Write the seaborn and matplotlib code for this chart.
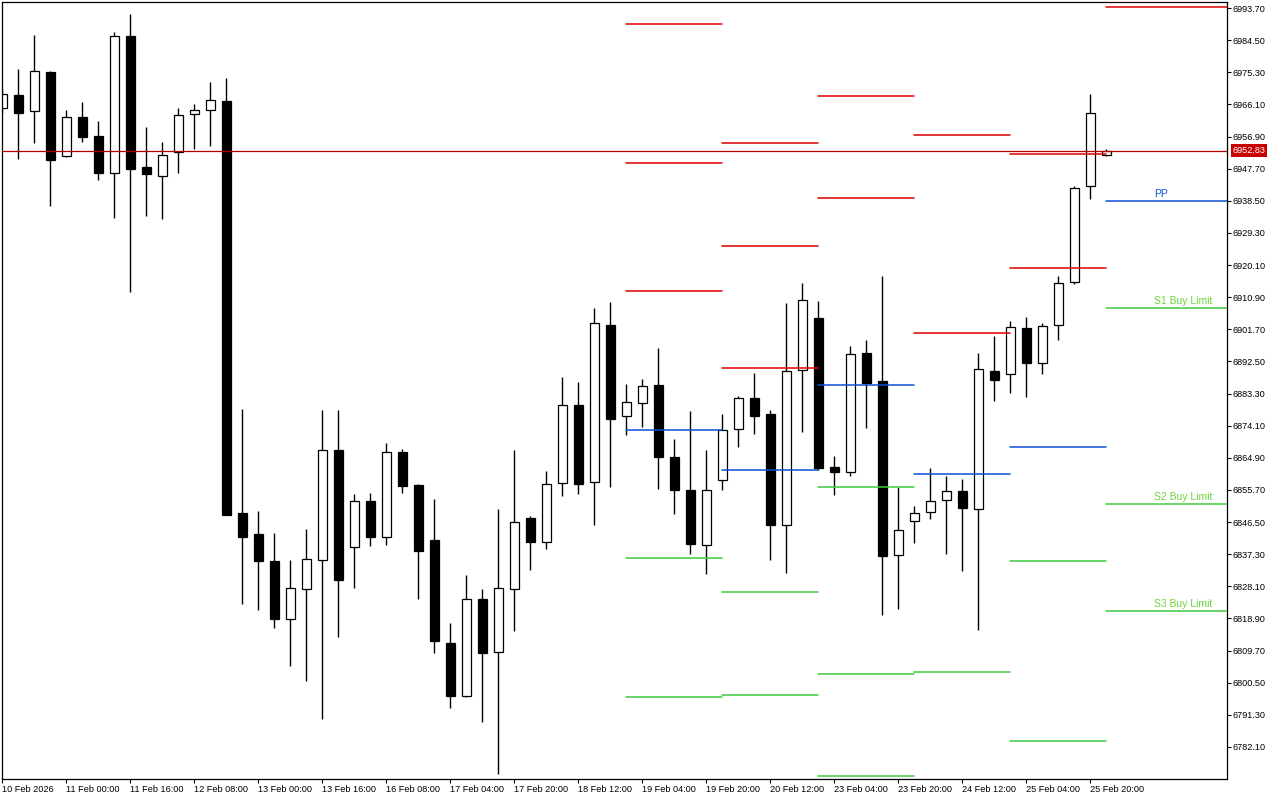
import matplotlib
matplotlib.use("Agg")
import numpy as np
import pandas as pd
import matplotlib.pyplot as plt
import seaborn as sns

# 4h candles, index 0 = first bar on screen
opens = [6965.0, 6968.7, 6964.1, 6975.4, 6951.2, 6962.4, 6957.0, 6946.4, 6985.7, 6948.1,
         6945.5, 6952.4, 6963.3, 6964.4, 6967.1, 6849.0, 6843.1, 6835.3, 6818.7, 6827.3,
         6835.6, 6867.0, 6839.5, 6852.4, 6842.1, 6866.7, 6857.0, 6841.5, 6811.8, 6796.7,
         6824.6, 6809.2, 6827.3, 6847.8, 6840.7, 6857.6, 6879.9, 6857.9, 6902.9, 6876.8,
         6880.5, 6885.8, 6865.1, 6855.7, 6840.0, 6858.5, 6873.1, 6882.0, 6877.4, 6845.8,
         6890.0, 6904.9, 6862.3, 6860.8, 6894.9, 6886.9, 6837.0, 6846.8, 6849.3, 6852.8,
         6855.4, 6850.2, 6889.8, 6889.0, 6902.1, 6892.1, 6902.9, 6915.2, 6942.8, 6951.5]
highs = [6970.5, 6976.2, 6986.0, 6975.7, 6964.5, 6966.8, 6961.3, 6986.8, 6992.0, 6959.6,
         6955.3, 6965.1, 6966.2, 6972.5, 6973.7, 6878.9, 6849.7, 6843.4, 6835.6, 6844.5,
         6878.6, 6878.6, 6854.4, 6854.8, 6869.1, 6867.4, 6857.4, 6853.1, 6817.6, 6831.3,
         6827.3, 6850.2, 6867.1, 6848.2, 6861.1, 6888.0, 6886.6, 6907.8, 6909.5, 6886.1,
         6887.5, 6896.3, 6870.3, 6878.3, 6867.1, 6877.4, 6882.6, 6889.2, 6878.6, 6909.2,
         6915.0, 6909.8, 6865.4, 6896.9, 6898.6, 6917.0, 6856.5, 6851.1, 6862.1, 6859.8,
         6858.7, 6894.9, 6899.9, 6904.0, 6905.2, 6903.4, 6917.1, 6942.8, 6969.0, 6953.3]
lows = [6963.5, 6950.5, 6955.1, 6937.1, 6951.1, 6955.4, 6944.5, 6933.7, 6912.5, 6934.2,
        6933.4, 6946.5, 6953.4, 6954.3, 6848.5, 6823.1, 6821.3, 6816.2, 6805.4, 6801.1,
        6790.2, 6813.7, 6827.7, 6839.7, 6840.0, 6854.9, 6824.5, 6809.1, 6793.3, 6796.5,
        6789.3, 6774.5, 6815.4, 6832.9, 6838.9, 6854.1, 6854.6, 6845.8, 6856.5, 6871.3,
        6873.7, 6856.1, 6848.9, 6837.4, 6831.7, 6855.8, 6868.1, 6871.8, 6835.7, 6832.0,
        6872.4, 6861.5, 6854.3, 6859.8, 6873.5, 6820.0, 6821.7, 6840.6, 6847.5, 6837.5,
        6832.6, 6815.7, 6881.1, 6883.4, 6882.2, 6888.8, 6898.5, 6914.6, 6938.9, 6951.4]
closes = [6969.0, 6963.7, 6975.6, 6950.3, 6962.4, 6956.8, 6946.5, 6985.6, 6947.7, 6946.3,
          6951.5, 6963.0, 6964.4, 6967.3, 6848.6, 6842.3, 6835.4, 6818.8, 6827.5, 6835.8,
          6867.1, 6830.0, 6852.4, 6842.3, 6866.7, 6856.9, 6838.1, 6812.5, 6796.7, 6824.6,
          6809.1, 6827.5, 6846.6, 6840.9, 6857.3, 6879.9, 6857.5, 6903.4, 6876.1, 6880.8,
          6885.6, 6865.2, 6855.8, 6840.3, 6855.7, 6872.8, 6881.9, 6877.0, 6845.8, 6889.8,
          6910.1, 6862.1, 6860.9, 6894.6, 6886.4, 6836.7, 6844.1, 6849.0, 6852.5, 6855.3,
          6850.4, 6890.4, 6887.2, 6902.4, 6892.0, 6902.7, 6915.0, 6942.3, 6963.5, 6952.83]

last_price = 6952.83

time_tick_pos = [0, 4, 8, 12, 16, 20, 24, 28, 32, 36, 40, 44, 48, 52, 56, 60, 64, 68]
time_tick_labels = ["10 Feb 2026", "11 Feb 00:00", "11 Feb 16:00", "12 Feb 08:00",
                    "13 Feb 00:00", "13 Feb 16:00", "16 Feb 08:00", "17 Feb 04:00",
                    "17 Feb 20:00", "18 Feb 12:00", "19 Feb 04:00", "19 Feb 20:00",
                    "20 Feb 12:00", "23 Feb 04:00", "23 Feb 20:00", "24 Feb 12:00",
                    "25 Feb 04:00", "25 Feb 20:00"]
price_ticks = [6993.7, 6984.5, 6975.3, 6966.1, 6956.9, 6947.7, 6938.5, 6929.3, 6920.1,
               6910.9, 6901.7, 6892.5, 6883.3, 6874.1, 6864.9, 6855.7, 6846.5, 6837.3,
               6828.1, 6818.9, 6809.7, 6800.5, 6791.3, 6782.1]

# daily pivot levels (NaN = off screen)
nan = np.nan
pivot_start = [39, 45, 51, 57, 63, 69]
pivot_end = [45, 51, 57, 63, 69, 80]
r3 = [6989.0, 6955.0, nan, nan, nan, nan]
r2 = [6949.2, 6925.5, 6968.4, 6957.3, 6951.8, nan]
r1 = [6912.6, 6890.5, 6939.2, 6900.6, 6919.3, 6994.0]
pp = [6872.8, 6861.3, 6885.7, 6860.2, 6867.9, 6938.4]
s1 = [6836.1, 6826.4, 6856.5, 6803.7, 6835.4, 6907.8]
s2 = [6796.4, 6796.9, 6802.9, nan, 6783.8, 6851.6]
s3 = [nan, nan, 6773.7, nan, nan, 6821.0]

RED = "#e00000"
BLUE = "#0a50d8"
GREEN = "#3ccc3c"
LABEL_GREEN = "#6fd43a"

sns.set_theme(style="white")
plt.rcParams["font.family"] = ["Liberation Sans", "DejaVu Sans"]

fig = plt.figure(figsize=(12.8, 8), dpi=100)
ax = fig.add_axes([2 / 1280, 1 - 779 / 800, 1225 / 1280, 777 / 800])

idx = np.arange(len(opens))
o = np.array(opens)
c = np.array(closes)
up = c >= o

# wicks
ax.vlines(idx, lows, highs, color="black", lw=1.0, zorder=1)
# bodies
ax.bar(idx[up], (c - o)[up], bottom=o[up], width=0.58, color="white",
       edgecolor="black", linewidth=0.9, zorder=2)
ax.bar(idx[~up], (o - c)[~up], bottom=c[~up], width=0.58, color="black",
       edgecolor="black", linewidth=0.9, zorder=2)

# pivot segments
rows = []
levels = {"R3": r3, "R2": r2, "R1": r1, "PP": pp, "S1": s1, "S2": s2, "S3": s3}
for d in range(len(pivot_start)):
    for name, vals in levels.items():
        v = vals[d]
        if np.isnan(v):
            continue
        kind = "R" if name.startswith("R") else ("PP" if name == "PP" else "S")
        seg = f"{d}-{name}"
        rows.append({"x": pivot_start[d], "y": v, "kind": kind, "seg": seg})
        rows.append({"x": pivot_end[d], "y": v, "kind": kind, "seg": seg})
piv = pd.DataFrame(rows)
sns.lineplot(data=piv, x="x", y="y", hue="kind", units="seg", estimator=None,
             palette={"R": RED, "PP": BLUE, "S": GREEN}, legend=False,
             lw=1.1, sort=False, ax=ax, zorder=3)

# labels on today's levels
label_x = 72
ax.annotate("PP", (label_x, pp[5]), xytext=(0, 1.5), textcoords="offset points",
            color=BLUE, fontsize=7.5, va="bottom", ha="left")
for txt, v in [("S1 Buy Limit", s1[5]), ("S2 Buy Limit", s2[5]), ("S3 Buy Limit", s3[5])]:
    ax.annotate(txt, (label_x, v), xytext=(0, 1.5), textcoords="offset points",
                color=LABEL_GREEN, fontsize=7.5, va="bottom", ha="left")

# current price line + tag
ax.axhline(last_price, color="#b00000", lw=0.9, zorder=4)
ax.annotate(f"{last_price:.2f}", xy=(1.0, last_price), xycoords=("axes fraction", "data"),
            xytext=(4, 0), textcoords="offset points", va="center", ha="left",
            color="white", fontsize=6.6,
            bbox=dict(boxstyle="square,pad=0.2", fc="#c80000", ec="none"),
            annotation_clip=False)

ax.set_xlim(-0.02, 76.54)
ax.set_ylim(6772.93, 6995.42)

ax.set_xticks(time_tick_pos)
ax.set_xticklabels(time_tick_labels)
for lab in ax.get_xticklabels():
    lab.set_ha("left")
ax.set_yticks(price_ticks)
ax.set_yticklabels([f"{t:.2f}" for t in price_ticks])
ax.yaxis.tick_right()
ax.tick_params(axis="both", which="major", length=3, width=0.8, color="black",
               labelsize=6.6, labelcolor="black", pad=1,
               bottom=True, right=True, left=False, top=False)
ax.set_xlabel("")
ax.set_ylabel("")

for sp in ax.spines.values():
    sp.set_color("black")
    sp.set_linewidth(0.9)
    sp.set_visible(True)
ax.set_facecolor("white")
fig.patch.set_facecolor("white")

fig.savefig("out.png", dpi=100)
